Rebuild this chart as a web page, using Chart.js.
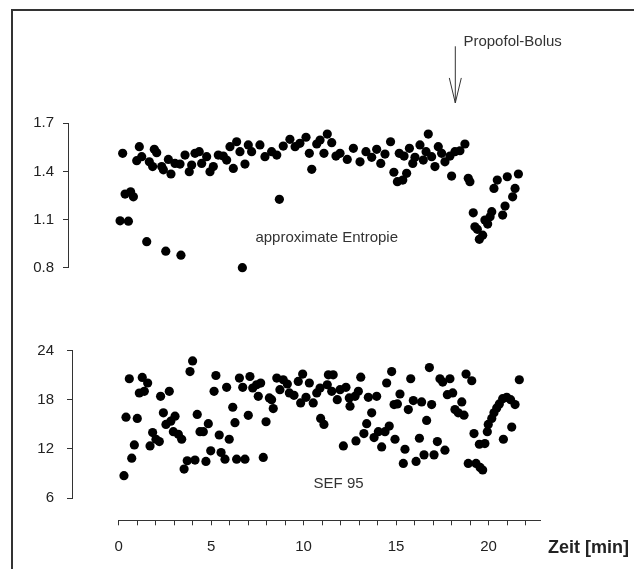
<!DOCTYPE html>
<html><head><meta charset="utf-8">
<script src="https://cdn.jsdelivr.net/npm/chart.js@4.4.1/dist/chart.umd.min.js"></script>
<style>
html,body{margin:0;padding:0;background:#fff;width:634px;height:569px;overflow:hidden}
#frame{position:absolute;left:11px;top:9px;width:640px;height:580px;border-left:2px solid #333;border-top:2px solid #333;box-sizing:border-box}
canvas{position:absolute;left:0}
</style></head><body>
<div id="frame"></div>
<canvas id="c1" width="634" height="290" style="top:0px"></canvas>
<canvas id="c2" width="634" height="220" style="top:300px"></canvas>
<canvas id="c3" width="634" height="69" style="top:500px"></canvas>
<script>
// ---- data ----
const apEnTime = [0.08,0.22,0.35,0.53,0.65,0.80,0.98,1.12,1.25,1.52,1.66,1.84,1.93,2.06,2.33,2.42,2.55,2.69,2.83,3.05,3.32,3.37,3.59,3.82,3.95,4.13,4.36,4.49,4.76,4.94,5.12,5.39,5.66,5.84,6.02,6.20,6.38,6.56,6.69,6.83,7.01,7.19,7.64,7.91,8.27,8.55,8.69,8.90,9.26,9.54,9.80,10.13,10.31,10.44,10.71,10.89,11.10,11.28,11.52,11.75,11.97,12.36,12.69,13.05,13.37,13.68,13.95,14.17,14.40,14.70,14.88,15.07,15.17,15.36,15.43,15.57,15.72,15.90,16.02,16.29,16.47,16.62,16.74,16.92,17.10,17.28,17.46,17.64,17.91,18.00,18.18,18.45,18.72,18.90,18.99,19.17,19.26,19.39,19.50,19.68,19.80,19.95,20.08,20.17,20.29,20.47,20.76,20.89,21.01,21.30,21.43,21.61];
const apEnValue = [1.092,1.513,1.259,1.090,1.273,1.242,1.467,1.554,1.492,0.962,1.460,1.430,1.538,1.517,1.430,1.410,0.903,1.475,1.384,1.450,1.446,0.878,1.502,1.398,1.440,1.513,1.523,1.450,1.492,1.398,1.430,1.502,1.496,1.471,1.554,1.419,1.585,1.523,0.800,1.446,1.565,1.523,1.565,1.492,1.523,1.502,1.226,1.558,1.600,1.554,1.575,1.613,1.513,1.413,1.571,1.596,1.513,1.633,1.579,1.496,1.513,1.475,1.544,1.460,1.523,1.488,1.538,1.450,1.508,1.585,1.395,1.336,1.513,1.346,1.496,1.388,1.544,1.450,1.488,1.565,1.471,1.523,1.633,1.492,1.430,1.554,1.513,1.460,1.496,1.371,1.523,1.529,1.571,1.357,1.336,1.142,1.055,1.039,0.977,1.003,1.097,1.072,1.117,1.149,1.294,1.346,1.128,1.184,1.367,1.242,1.294,1.384];

const sefTime = [0.29,0.40,0.58,0.71,0.85,1.01,1.12,1.28,1.39,1.57,1.70,1.84,2.02,2.20,2.27,2.42,2.56,2.74,2.82,2.96,3.05,3.23,3.41,3.54,3.71,3.86,4.00,4.13,4.25,4.40,4.58,4.72,4.85,4.98,5.16,5.26,5.44,5.54,5.75,5.84,5.98,6.17,6.29,6.38,6.53,6.71,6.83,7.01,7.10,7.25,7.46,7.55,7.68,7.82,7.97,8.15,8.27,8.36,8.55,8.72,8.90,9.12,9.23,9.48,9.71,9.84,9.95,10.13,10.31,10.52,10.71,10.89,10.92,11.10,11.28,11.34,11.52,11.60,11.82,11.97,12.15,12.29,12.47,12.51,12.78,12.83,12.96,13.09,13.26,13.41,13.50,13.68,13.81,13.95,14.04,14.22,14.40,14.49,14.63,14.76,14.89,14.94,15.07,15.21,15.39,15.48,15.66,15.79,15.93,16.08,16.26,16.38,16.51,16.65,16.80,16.92,17.05,17.23,17.37,17.52,17.64,17.77,17.91,18.06,18.18,18.36,18.55,18.67,18.78,18.90,19.09,19.21,19.32,19.50,19.54,19.68,19.80,19.93,19.98,20.17,20.29,20.44,20.58,20.76,20.80,20.98,21.19,21.25,21.43,21.66];
const sefValue = [8.73,15.88,20.57,10.87,12.48,15.72,18.83,20.73,19.03,20.05,12.36,13.99,13.18,12.90,18.42,16.41,14.99,19.03,15.39,14.10,16.00,13.78,13.18,9.54,10.55,21.45,22.75,10.63,16.21,14.10,14.10,10.47,15.08,11.76,19.03,20.97,13.70,11.56,10.75,19.52,13.18,17.09,15.20,10.75,20.65,19.52,10.75,16.10,20.85,19.44,19.84,18.42,20.04,10.96,15.32,18.23,18.02,16.93,20.65,19.24,20.45,19.93,18.84,18.55,20.24,17.62,21.14,18.30,20.05,17.62,18.84,19.44,15.72,14.99,19.84,21.05,19.03,21.05,18.02,19.24,12.36,19.52,18.23,17.21,18.42,12.97,19.03,20.77,13.87,15.08,18.30,16.41,13.38,18.42,14.10,12.24,14.10,20.05,14.79,21.45,17.42,13.18,17.50,18.71,10.23,11.96,16.81,20.57,17.90,10.47,13.30,17.74,11.27,15.48,21.94,17.42,11.27,12.90,20.57,20.17,11.84,18.63,20.57,18.84,16.81,16.41,17.74,16.12,21.14,10.23,20.33,13.87,10.23,12.57,9.74,9.42,12.65,14.10,14.99,15.72,16.41,17.01,17.50,18.14,13.18,18.30,18.02,14.67,17.42,20.45];

const apEnTicks = [0.8, 1.1, 1.4, 1.7];
const sefTicks = [6, 12, 18, 24];
const xTickLabels = [0, 5, 10, 15, 20];
const xTickStep = 1;
const xMax = 22.8;

const bolusTime = 18.2;
const labelApEn = 'approximate Entropie';
const labelSef = 'SEF 95';
const labelBolus = 'Propofol-Bolus';
const labelX = 'Zeit [min]';

// ---- layout helpers ----
const FONT = '"Liberation Sans", Arial, sans-serif';
const AX = '#333';
const TXT = '#222';
const X0 = 118.6, PXM = 18.5, RIGHT = 560;
const xMinFor = left => (left - X0) / PXM;
const xMaxR = (RIGHT - X0) / PXM;
const pts = (t, v) => t.map((x, i) => ({x, y: v[i]}));

function yScale(min, max, ticks, width, pad) {
  return {
    type: 'linear', min, max,
    afterFit: s => { s.width = width; },
    afterBuildTicks: s => { s.ticks = ticks.map(v => ({value: v})); },
    ticks: { font: {family: FONT, size: 15}, color: TXT, padding: pad,
      callback: v => (max < 5 ? Number(v).toFixed(1) : String(v)) },
    grid: { drawOnChartArea: false, drawTicks: true, tickLength: 5, color: AX, lineWidth: 1 },
    border: { display: true, color: AX, width: 1 }
  };
}

function dataset(data) {
  return { data, backgroundColor: '#000', borderColor: '#000', borderWidth: 0,
    pointRadius: 4.6, pointHoverRadius: 4.6, clip: false };
}

const baseOpts = { responsive: false, animation: false, devicePixelRatio: 1,
  plugins: { legend: {display: false}, tooltip: {enabled: false} }, events: [] };

// ---- top panel ----
new Chart(document.getElementById('c1'), {
  type: 'scatter',
  data: { datasets: [dataset(pts(apEnTime, apEnValue))] },
  options: Object.assign({}, baseOpts, {
    layout: { autoPadding: false, padding: {left: 0, top: 123.3, right: 634 - RIGHT, bottom: 22.3} },
    scales: {
      x: { type: 'linear', display: false, min: xMinFor(68), max: xMaxR },
      y: yScale(0.8, 1.7, apEnTicks, 68, 9)
    }
  }),
  plugins: [{
    id: 'notesTop',
    afterDraw(chart) {
      const {ctx} = chart, xs = chart.scales.x, ys = chart.scales.y;
      ctx.save();
      ctx.fillStyle = '#333';
      ctx.font = '15px ' + FONT;
      ctx.textAlign = 'center'; ctx.textBaseline = 'middle';
      ctx.fillText(labelApEn, xs.getPixelForValue(11.25), ys.getPixelForValue(0.983));
      // arrow
      const ax = xs.getPixelForValue(bolusTime);
      const yTop = ys.getPixelForValue(2.18), yTip = ys.getPixelForValue(1.827);
      ctx.strokeStyle = '#333'; ctx.lineWidth = 1;
      ctx.beginPath();
      ctx.moveTo(ax, yTop); ctx.lineTo(ax, yTip);
      ctx.moveTo(ax - 6, yTip - 25); ctx.lineTo(ax, yTip); ctx.lineTo(ax + 6, yTip - 25);
      ctx.stroke();
      ctx.textAlign = 'left';
      ctx.fillText(labelBolus, xs.getPixelForValue(18.64), ys.getPixelForValue(2.21));
      ctx.restore();
    }
  }]
});

// ---- bottom panel ----
new Chart(document.getElementById('c2'), {
  type: 'scatter',
  data: { datasets: [dataset(pts(sefTime, sefValue))] },
  options: Object.assign({}, baseOpts, {
    layout: { autoPadding: false, padding: {left: 0, top: 50.7, right: 634 - RIGHT, bottom: 20.7} },
    scales: {
      x: { type: 'linear', display: false, min: xMinFor(72), max: xMaxR },
      y: yScale(6, 24, sefTicks, 72, 13)
    }
  }),
  plugins: [{
    id: 'notesBottom',
    afterDraw(chart) {
      const {ctx} = chart, xs = chart.scales.x, ys = chart.scales.y;
      ctx.save();
      ctx.fillStyle = '#333';
      ctx.font = '15px ' + FONT;
      ctx.textAlign = 'center'; ctx.textBaseline = 'middle';
      ctx.fillText(labelSef, xs.getPixelForValue(11.89), ys.getPixelForValue(7.72));
      ctx.restore();
    }
  }]
});

// ---- x axis ----
new Chart(document.getElementById('c3'), {
  type: 'scatter',
  data: { datasets: [] },
  options: Object.assign({}, baseOpts, {
    layout: { autoPadding: false, padding: {left: X0, top: 0, right: 634 - (X0 + xMax * PXM), bottom: 0} },
    scales: {
      x: { type: 'linear', min: 0, max: xMax, position: 'bottom',
        afterFit: s => { s.height = 48.7; },
        afterBuildTicks: s => { const t = []; for (let v = 0; v <= xMax; v += xTickStep) t.push({value: v}); s.ticks = t; },
        ticks: { font: {family: FONT, size: 15}, color: TXT, padding: 13, autoSkip: false, maxRotation: 0,
          callback: v => (xTickLabels.includes(v) ? String(v) : '') },
        grid: { drawOnChartArea: false, drawTicks: true, tickLength: 5, color: AX, lineWidth: 1 },
        border: { display: true, color: AX, width: 1 }
      },
      y: { display: false, min: 0, max: 1 }
    }
  }),
  plugins: [{
    id: 'notesX',
    afterDraw(chart) {
      const {ctx} = chart, xs = chart.scales.x;
      ctx.save();
      ctx.fillStyle = TXT;
      ctx.font = 'bold 18px ' + FONT;
      ctx.textAlign = 'left'; ctx.textBaseline = 'middle';
      ctx.fillText(labelX, xs.getPixelForValue(23.21), xs.top + 27.5);
      ctx.restore();
    }
  }]
});
</script>
</body></html>
